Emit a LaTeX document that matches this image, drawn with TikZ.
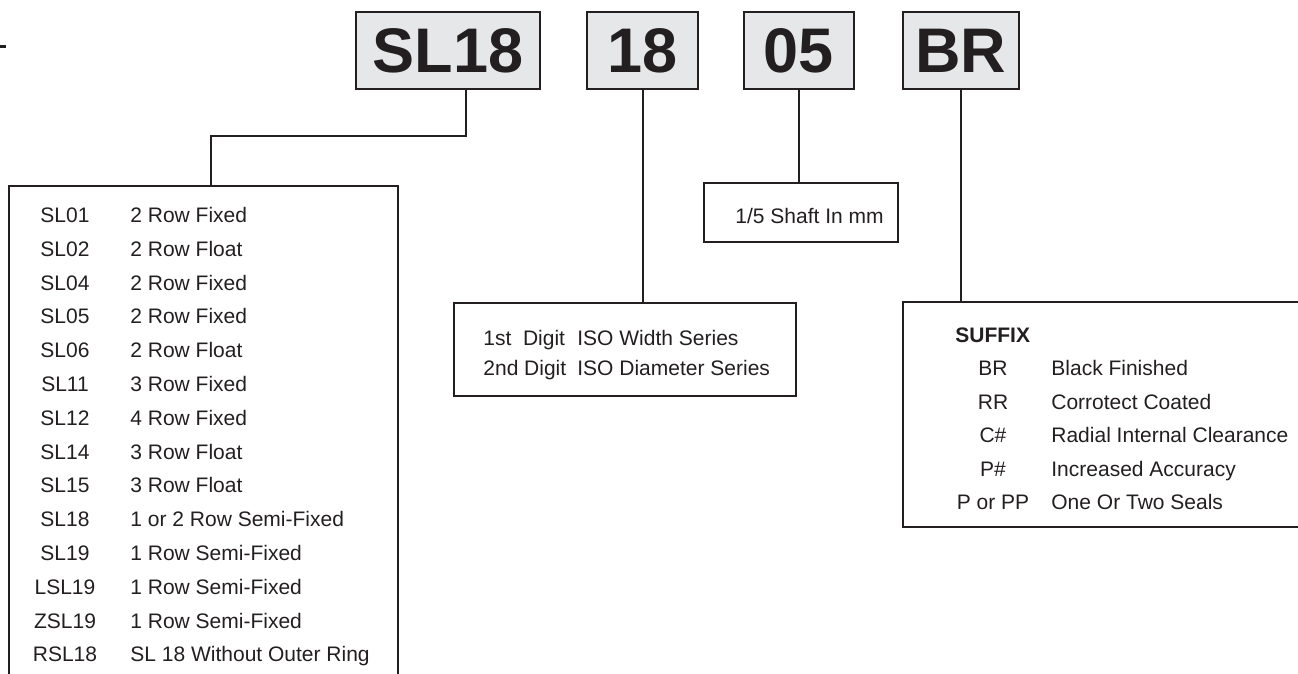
\documentclass[tikz,border=0pt]{standalone}
\usepackage{fontspec}
\setmainfont{Liberation Sans}
\usetikzlibrary{positioning}
\definecolor{ink}{HTML}{231F20}
\definecolor{tagfill}{HTML}{E6E7E8}

\begin{document}
\begin{tikzpicture}
  [
    x=0.5pt, y=-0.5pt,
    tag/.style={draw=ink, fill=tagfill, line width=1pt, inner sep=0pt,
      minimum height=38.5pt, text=ink,
      font=\fontsize{31.5}{31.5}\selectfont\bfseries},
    legend/.style={draw=ink, line width=1pt, inner sep=0pt},
    txt/.style={text=ink, inner sep=0pt, font=\fontsize{10.5}{12}\selectfont},
    link/.style={draw=ink, line width=1pt}
  ]
  \useasboundingbox (0,0) rectangle (1298,674);
  \begin{scope}
  \clip (0,0) rectangle (1298,674);

  \draw [ink, line width=1.5pt] (0,46.5) -- (6,46.5);

  % part number
  \node (sl) at (448,50.5)   [tag, minimum width=92pt]   {SL18};
  \node (sz) at (642.5,50.5) [tag, minimum width=55.5pt] {18};
  \node (sh) at (799,50.5)   [tag, minimum width=55pt]   {05};
  \node (sf) at (961,50.5)   [tag, minimum width=58pt]   {BR};

  % legends
  \node (series) at (203.5,443)  [legend, minimum width=194.5pt, minimum height=257pt] {};
  \node (iso)    at (625,349.5)  [legend, minimum width=171pt, minimum height=46.5pt] {};
  \node (shaft)  at (801,212.5)  [legend, minimum width=97pt, minimum height=29.5pt] {};
  \node (suffix) at (1106.5,414.5) [legend, minimum width=203.5pt, minimum height=112.5pt] {};

  \foreach \code/\desc [count=\i from 0] in {SL01/2 Row Fixed, SL02/2 Row Float,
      SL04/2 Row Fixed, SL05/2 Row Fixed, SL06/2 Row Float, SL11/3 Row Fixed,
      SL12/4 Row Fixed, SL14/3 Row Float, SL15/3 Row Float,
      SL18/1 or 2 Row Semi-Fixed, SL19/1 Row Semi-Fixed, LSL19/1 Row Semi-Fixed,
      ZSL19/1 Row Semi-Fixed, RSL18/SL 18 Without Outer Ring}
  {
    \node (code\i) at (65,{222.5+33.8*\i})  [txt, anchor=base]      {\code};
    \node (desc\i) at (130,{222.5+33.8*\i}) [txt, anchor=base west] {\desc};
  }

  \node (isoa) at (483,345.5) [txt, anchor=base west] {1st~~Digit};
  \node (isob) at (577,345.5) [txt, anchor=base west] {ISO Width Series};
  \node (isoc) at (483,375.5) [txt, anchor=base west] {2nd Digit};
  \node (isod) at (577,375.5) [txt, anchor=base west] {ISO Diameter Series};

  \node (shafttxt) at (735,223.5) [txt, anchor=base west] {1/5 Shaft In mm};

  \node (sufhead) at (955,342.5) [txt, anchor=base west, font=\fontsize{10.5}{12}\selectfont\bfseries] {SUFFIX};
  \foreach \code/\desc [count=\i from 0] in {BR/Black Finished, RR/Corrotect Coated,
      C\#/Radial Internal Clearance, P\#/Increased Accuracy, P or PP/One Or Two Seals}
  {
    \node (sufcode\i) at (993,{375.5+33.6*\i})  [txt, anchor=base]      {\code};
    \node (sufdesc\i) at (1051,{375.5+33.6*\i}) [txt, anchor=base west] {\desc};
  }

  % connectors
  \coordinate (slfoot) at (466,0);
  \coordinate (bend) at (211,136);
  \draw [link] (slfoot |- sl.south) |- (bend) -- (bend |- series.north);
  \draw [link] (sz.south) -- (sz.south |- iso.north);
  \draw [link] (sh.south) -- (sh.south |- shaft.north);
  \draw [link] (sf.south) -- (sf.south |- suffix.north);
  \end{scope}
\end{tikzpicture}
\end{document}
